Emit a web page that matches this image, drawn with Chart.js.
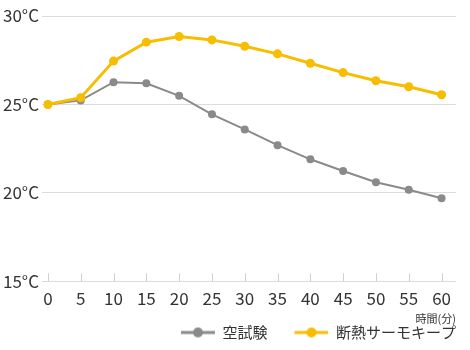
<!DOCTYPE html>
<html>
<head>
<meta charset="utf-8">
<script src="https://cdn.jsdelivr.net/npm/chart.js@4/dist/chart.umd.min.js"></script>
<style>
  html, body { margin: 0; padding: 0; background: #fff; }
</style>
</head>
<body>
<canvas id="myChart" width="470" height="350"></canvas>
<script>
let minutes = [0, 5, 10, 15, 20, 25, 30, 35, 40, 45, 50, 55, 60];
let kara = [25.0, 25.23, 26.26, 26.2, 25.49, 24.44, 23.59, 22.7, 21.9, 21.24, 20.6, 20.18, 19.7];
let thermo = [25.0, 25.38, 27.45, 28.52, 28.84, 28.65, 28.29, 27.86, 27.33, 26.8, 26.34, 26.0, 25.55];
let yTicks = [15, 20, 25, 30];
let seriesNames = ['空試験', '断熱サーモキープ'];

let gris = '#8a8a8a';
let amarillo = '#f7bd00';
let texto = '#333333';
let fuente = '"Noto Sans CJK JP", "Noto Sans", sans-serif';

// icono de leyenda: linea con circulo, con hueco transparente a la izquierda
function icono(color, grosor) {
  let c = document.createElement('canvas');
  c.width = 61; c.height = 12;
  let g = c.getContext('2d');
  g.strokeStyle = color;
  g.lineWidth = grosor;
  g.beginPath();
  g.moveTo(27, 6); g.lineTo(61, 6);
  g.stroke();
  g.fillStyle = color;
  g.beginPath();
  g.arc(44, 6, 5, 0, Math.PI * 2);
  g.fill();
  return c;
}
let iconos = [icono(gris, 3), icono(amarillo, 3)];

// marcas del eje x hacia dentro
const marcas = {
  id: 'marcas',
  beforeDatasetsDraw(chart) {
    let ctx = chart.ctx;
    let x = chart.scales.x;
    let fondo = chart.chartArea.bottom;
    ctx.save();
    ctx.strokeStyle = '#d0d0d0';
    ctx.lineWidth = 1;
    for (let i = 0; i < minutes.length; i++) {
      let px = Math.round(x.getPixelForValue(minutes[i])) + 0.5;
      ctx.beginPath();
      ctx.moveTo(px, fondo);
      ctx.lineTo(px, fondo - 8);
      ctx.stroke();
    }
    ctx.restore();
  }
};

let ctx = document.getElementById('myChart').getContext('2d');
let chart = new Chart(ctx, {
  type: 'line',
  data: {
    datasets: [{
      label: seriesNames[1],
      data: minutes.map((m, i) => ({x: m, y: thermo[i]})),
      borderColor: amarillo,
      backgroundColor: amarillo,
      borderWidth: 3,
      pointRadius: 4.5,
      pointBorderWidth: 0,
      pointHoverRadius: 4.5
    }, {
      label: seriesNames[0],
      data: minutes.map((m, i) => ({x: m, y: kara[i]})),
      borderColor: gris,
      backgroundColor: gris,
      borderWidth: 2,
      pointRadius: 4,
      pointBorderWidth: 0,
      pointHoverRadius: 4
    }]
  },
  options: {
    responsive: false,
    animation: false,
    events: [],
    layout: {
      padding: { left: 0, right: 14, top: 16, bottom: 0 }
    },
    scales: {
      x: {
        type: 'linear',
        min: -0.9,
        max: 62.2,
        afterBuildTicks: s => { s.ticks = minutes.map(v => ({value: v})); },
        grid: { display: false, drawTicks: false },
        border: { display: false },
        ticks: { color: texto, font: { family: fuente, size: 17 }, padding: 7, maxRotation: 0, autoSkip: false },
        title: {
          display: true,
          text: '時間(分)',
          align: 'end',
          color: texto,
          font: { family: fuente, size: 11 },
          padding: { top: -4, bottom: 0 }
        }
      },
      y: {
        min: 15,
        max: 30,
        afterBuildTicks: s => { s.ticks = yTicks.map(v => ({value: v})); },
        border: { display: false },
        grid: { color: '#dcdcdc', lineWidth: 1, drawTicks: false },
        ticks: {
          color: texto,
          font: { family: fuente, size: 17 },
          padding: 3,
          callback: v => v + '°C'
        }
      }
    },
    plugins: {
      tooltip: { enabled: false },
      legend: {
        position: 'bottom',
        align: 'end',
        labels: {
          usePointStyle: true,
          pointStyleWidth: 61,
          padding: 0,
          color: texto,
          font: { family: fuente, size: 15 },
          generateLabels: c => seriesNames.map((n, i) => ({
            text: n,
            pointStyle: iconos[i],
            fillStyle: 'transparent',
            strokeStyle: 'transparent',
            lineWidth: 0,
            fontColor: texto,
            datasetIndex: 1 - i
          }))
        }
      }
    }
  },
  plugins: [marcas]
});
</script>
</body>
</html>
